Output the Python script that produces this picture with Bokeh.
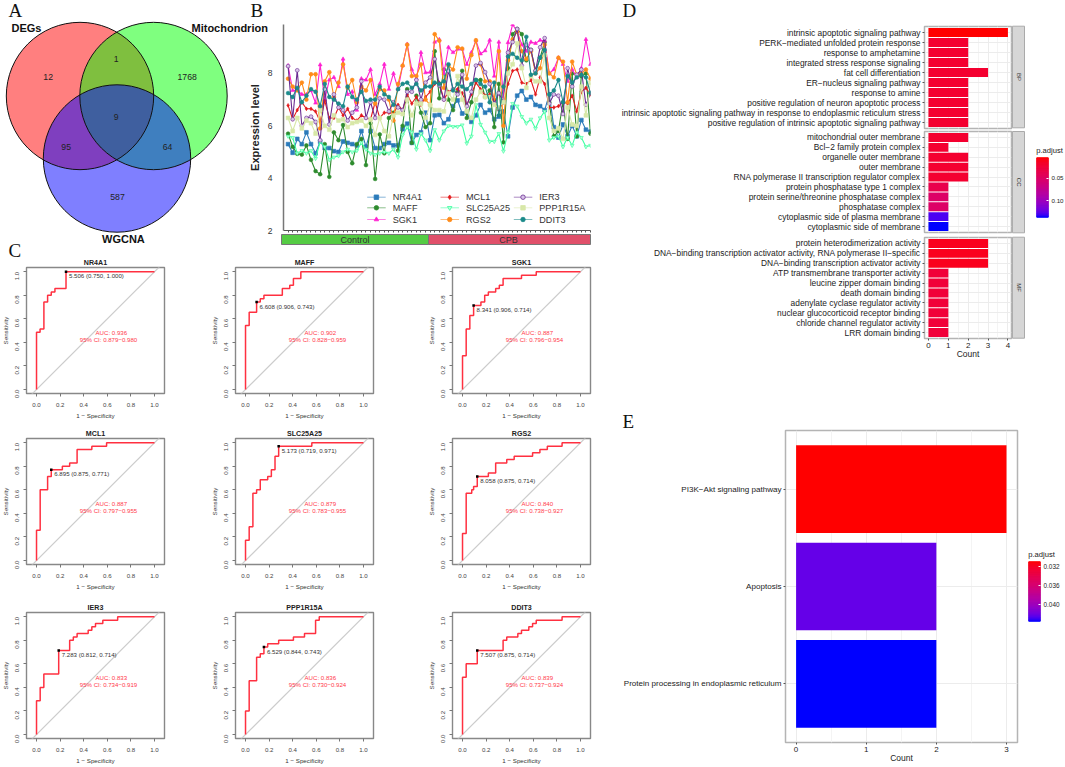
import math
from bokeh.plotting import figure
from bokeh.models import Range1d, FactorRange, FixedTicker, NumeralTickFormatter, LinearColorMapper, ColumnDataSource, CustomLabelingPolicy
from bokeh.core.properties import value
from bokeh.embed import file_html
from bokeh.resources import INLINE

SANS = "Liberation Sans"
SERIF = "Liberation Serif"

# ---------- Panel A ----------
venn_names = ["DEGs", "Mitochondrion", "WGCNA"]
venn_cx = [79.5, 153.0, 116.5]
venn_cy = [95.5, 95.5, 158.0]
venn_r = 73.7
venn_colors = ["#ff0000", "#00ff00", "#0000ff"]
venn_counts = ["12", "1", "1768", "9", "95", "64", "587"]
venn_count_x = [47.7, 115.7, 186.7, 115.7, 65.7, 167.0, 117.0]
venn_count_y = [76.7, 58.0, 76.7, 116.3, 146.0, 146.0, 196.3]

# ---------- Panel B ----------
genes = ["NR4A1", "MAFF", "SGK1", "MCL1", "SLC25A25", "RGS2", "IER3", "PPP1R15A", "DDIT3"]
NR4A1 = [5.3,4.97,5.5,5.3,5.75,5.3,4.95,5.4,5.15,5.15,5.03,5.0,5.4,5.35,5.3,5.25,5.8,5.2,5.8,5.15,5.15,5.3,5.35,5.25,5.25,5.87,6.08,5.35,5.65,5.75,6.5,5.45,
         6.4,6.42,6.1,6.25,6.75,6.97,6.47,6.5,6.15,6.4,6.8,6.5,6.6,6.25,6.35,6.55,5.6,6.7,7.15,7.33,7.0,7.1,6.8,6.75,6.6,7.2,5.95,5.55,6.05,5.6,6.0,5.6,6.22,5.85,5.78]
MAFF = [5.7,5.2,4.93,4.9,5.25,4.7,4.27,4.15,5.3,4.05,5.75,5.45,6.03,5.0,4.57,5.3,5.5,4.5,6.1,3.97,5.67,4.95,6.3,6.5,5.05,6.0,7.4,5.35,7.15,6.5,5.95,6.1,
        8.85,7.05,8.15,7.0,6.6,7.3,8.1,6.3,6.9,7.75,7.75,7.1,7.35,5.95,7.6,5.37,8.2,9.5,9.7,9.5,8.5,8.9,8.1,8.6,9.2,6.9,5.6,5.8,6.9,5.5,8.0,5.6,7.9,8.0,5.7]
SGK1 = [8.3,7.35,7.35,7.2,7.2,7.35,6.87,8.33,7.0,7.75,7.85,7.5,8.55,7.2,7.3,6.6,7.8,7.75,8.15,7.2,7.6,8.35,7.4,8.0,7.4,8.3,9.12,8.15,7.8,8.8,8.03,8.05,
        9.2,9.3,8.0,9.0,8.8,8.93,8.93,8.35,8.8,9.25,8.75,8.87,9.27,7.9,9.2,7.1,9.18,9.87,9.6,9.1,8.85,9.2,9.15,9.27,9.25,8.0,8.15,8.6,8.35,7.7,8.15,7.85,8.2,9.3,8.35]
MCL1 = [6.78,6.25,6.6,6.9,6.65,6.65,6.55,6.15,6.95,6.3,6.3,6.7,6.4,6.65,6.3,6.2,6.4,6.3,6.25,6.9,6.3,6.5,6.5,6.45,6.8,6.6,7.2,6.85,7.1,6.8,7.1,7.3,
        7.6,7.65,7.0,7.3,7.4,7.4,7.25,6.8,7.2,7.65,7.4,7.15,7.2,6.85,6.6,6.9,7.6,8.1,8.15,7.65,7.6,7.75,7.2,7.85,7.6,6.7,6.7,6.75,6.9,6.85,7.15,6.55,7.3,7.45,7.2]
SLC25A25 = [5.6,5.55,4.95,5.05,4.95,5.05,4.75,5.4,5.2,4.7,4.8,4.85,5.0,5.1,5.0,5.05,5.35,5.1,4.95,4.9,4.95,5.0,4.95,5.1,4.8,5.65,5.95,5.75,5.1,5.7,5.45,5.05,
            5.85,5.45,5.8,6.0,5.97,5.97,6.03,5.33,5.6,6.8,6.05,5.75,5.4,5.4,5.7,5.03,5.75,6.85,6.75,6.35,6.1,6.25,5.9,6.3,6.55,5.45,5.55,5.6,5.2,5.55,5.25,5.75,5.55,5.2,5.25]
RGS2 = [7.8,7.5,7.35,7.65,7.0,7.97,7.97,5.9,7.7,8.05,7.1,7.65,8.35,7.45,7.75,6.9,7.5,7.35,7.75,6.85,7.4,7.35,7.0,6.2,7.6,8.3,9.1,7.9,7.9,8.35,7.0,6.8,
        9.5,9.25,7.45,8.3,8.15,9.0,8.95,7.8,8.7,9.27,8.35,7.7,7.7,7.0,8.85,6.0,8.5,9.3,9.6,8.85,8.55,8.85,8.0,8.2,9.1,8.0,7.85,8.6,8.45,6.9,8.45,7.95,8.0,8.15,7.8]
IER3 = [8.28,6.25,8.12,6.0,6.3,6.35,6.15,5.45,7.4,6.05,7.2,6.7,6.6,6.2,6.5,6.7,7.7,6.3,6.9,6.3,7.05,7.0,6.55,6.9,6.7,6.6,7.3,7.3,7.75,7.0,7.65,7.85,
        8.55,7.55,7.0,8.1,7.4,7.2,7.95,6.75,7.3,8.3,8.4,8.05,7.6,6.85,7.25,6.9,8.8,9.2,9.7,8.3,9.1,8.9,8.1,9.0,9.35,6.85,7.2,7.15,6.45,8.2,7.5,7.95,8.15,6.8,7.25]
PPP1R15A = [6.3,5.8,6.3,5.9,6.2,6.1,5.7,6.6,6.0,5.85,6.4,6.2,6.25,5.95,6.1,6.15,6.2,6.0,6.25,5.65,6.3,5.8,5.6,6.4,6.5,6.45,7.0,6.4,6.85,6.85,6.3,6.8,
            6.6,6.6,6.55,7.25,7.0,7.9,7.0,6.55,6.3,7.0,7.3,7.1,7.1,6.8,6.7,6.9,8.0,8.35,9.15,8.2,7.45,7.9,7.7,7.7,8.7,6.3,5.8,5.9,5.5,6.7,6.05,6.0,7.5,6.4,7.65]
DDIT3 = [7.25,7.1,7.45,6.9,7.15,7.4,7.3,6.75,7.6,7.1,7.0,6.85,6.75,7.5,7.1,7.0,7.3,6.95,7.0,7.0,7.5,7.2,7.1,6.8,7.4,7.6,7.65,7.45,7.6,7.35,7.5,7.5,
         7.65,7.6,7.7,8.35,7.35,7.6,7.5,7.4,7.6,7.75,7.6,7.5,6.9,7.65,6.4,7.5,8.65,8.75,8.6,8.5,9.4,7.95,8.0,8.6,8.9,7.2,7.35,7.75,6.9,7.9,7.65,7.85,7.95,7.85,7.25]
expr = [NR4A1, MAFF, SGK1, MCL1, SLC25A25, RGS2, IER3, PPP1R15A, DDIT3]
gene_colors = ["#2b7bba", "#2e8b2e", "#ff20d0", "#e31a1c", "#3cffa0", "#ff8c1a", "#6a2c91", "#d8e8a8", "#1b8a8a"]
gene_markers = ["square", "circle", "triangle", "diamond", "inverted_triangle", "circle", "circle", "square", "circle"]
gene_fill = ["#2b7bba", "#2e8b2e", "#ff20d0", "#e31a1c", "#b8ffdc", "#ff8c1a", "#d8c4e8", "#d8e8a8", "#1b8a8a"]
group_names = ["Control", "CPB"]
group_colors = ["#55cc44", "#e0506a"]

# ---------- Panel C ----------
roc_names = ["NR4A1", "MAFF", "SGK1", "MCL1", "SLC25A25", "RGS2", "IER3", "PPP1R15A", "DDIT3"]
roc_fpr = [
    [0,.03,.0625,.094,.125,.156,.25],
    [0,.031,.094,.125,.156,.312,.375,.406,.469],
    [0,.031,.062,.094,.156,.188,.219,.281,.312,.344,.5,.625],
    [0,.031,.094,.125,.219,.281,.344,.469,.594],
    [0,.031,.0625,.094,.125,.188,.219,.25,.281,.562],
    [0,.031,.078,.094,.125,.219,.281,.375,.438,.594,.656,.719,.844],
    [0,.031,.062,.188,.281,.312,.344,.438,.469,.5,.562,.688],
    [0,.031,.094,.125,.156,.188,.281,.406,.5,.594,.625],
    [0,.031,.125,.344,.375,.469,.5,.562,.594,.625,.844],
]
roc_tpr = [
    [.486,.514,.743,.8,.829,.857,1],
    [.543,.657,.743,.771,.8,.857,.886,.943,1],
    [.286,.514,.629,.714,.743,.8,.829,.857,.886,.943,.971,1],
    [.257,.6,.714,.771,.8,.829,.943,.971,1],
    [.171,.286,.571,.6,.686,.714,.771,.886,.971,1],
    [.229,.571,.6,.629,.714,.743,.829,.857,.886,.914,.943,.971,1],
    [.286,.4,.514,.714,.8,.829,.857,.886,.914,.943,.971,1],
    [.2,.457,.657,.686,.743,.771,.8,.829,.857,.971,1],
    [.486,.6,.714,.8,.829,.857,.886,.914,.943,.971,1],
]
roc_thr = ["5.506", "6.608", "8.341", "6.895", "5.173", "8.058", "7.283", "6.529", "7.507"]
roc_spec = [.750, .906, .906, .875, .719, .875, .812, .844, .875]
roc_sens = [1.000, .743, .714, .771, .971, .714, .714, .743, .714]
roc_auc = ["0.936", "0.902", "0.887", "0.887", "0.879", "0.840", "0.833", "0.836", "0.839"]
roc_ci = ["0.879−0.980", "0.828−0.959", "0.796−0.954", "0.797−0.955", "0.783−0.955", "0.738−0.927", "0.734−0.919", "0.730−0.924", "0.737−0.924"]

# ---------- Panel D ----------
bp_terms = ["intrinsic apoptotic signaling pathway", "PERK−mediated unfolded protein response", "response to amphetamine",
            "integrated stress response signaling", "fat cell differentiation", "ER−nucleus signaling pathway", "response to amine",
            "positive regulation of neuron apoptotic process",
            "intrinsic apoptotic signaling pathway in response to endoplasmic reticulum stress",
            "positive regulation of intrinsic apoptotic signaling pathway"]
bp_count = [4, 2, 2, 2, 3, 2, 2, 2, 2, 2]
bp_padj = [.0037, .02, .02, .02, .02, .02, .02, .02, .02, .02]
cc_terms = ["mitochondrial outer membrane", "Bcl−2 family protein complex", "organelle outer membrane", "outer membrane",
            "RNA polymerase II transcription regulator complex", "protein phosphatase type 1 complex",
            "protein serine/threonine phosphatase complex", "phosphatase complex", "cytoplasmic side of plasma membrane",
            "cytoplasmic side of membrane"]
cc_count = [2, 1, 2, 2, 2, 1, 1, 1, 1, 1]
cc_padj = [.02, .02, .02, .02, .02, .035, .05, .05, .13, .1368]
mf_terms = ["protein heterodimerization activity", "DNA−binding transcription activator activity, RNA polymerase II−specific",
            "DNA−binding transcription activator activity", "ATP transmembrane transporter activity", "leucine zipper domain binding",
            "death domain binding", "adenylate cyclase regulator activity", "nuclear glucocorticoid receptor binding",
            "chloride channel regulator activity", "LRR domain binding"]
mf_count = [3, 3, 3, 1, 1, 1, 1, 1, 1, 1]
mf_padj = [.012, .012, .012, .025, .025, .025, .025, .025, .025, .025]
facet_names = ["BP", "CC", "MF"]

# ---------- Panel E ----------
kegg_terms = ["PI3K−Akt signaling pathway", "Apoptosis", "Protein processing in endoplasmic reticulum"]
kegg_count = [3, 2, 2]
kegg_padj = [.03102, .0424, .04363]


def lab_gradient(n=256):
    def to_lin(c):
        return c / 12.92 if c <= .04045 else ((c + .055) / 1.055) ** 2.4
    def to_lab(rgb):
        r, g, b = [to_lin(c) for c in rgb]
        x = (.4124 * r + .3576 * g + .1805 * b) / .95047
        y = .2126 * r + .7152 * g + .0722 * b
        z = (.0193 * r + .1192 * g + .9505 * b) / 1.08883
        f = lambda t: t ** (1 / 3) if t > .008856 else 7.787 * t + 16 / 116
        return 116 * f(y) - 16, 500 * (f(x) - f(y)), 200 * (f(y) - f(z))
    def to_hex(L, a, b):
        fy = (L + 16) / 116
        fx, fz = fy + a / 500, fy - b / 200
        g = lambda t: t ** 3 if t ** 3 > .008856 else (t - 16 / 116) / 7.787
        x, y, z = .95047 * g(fx), g(fy), 1.08883 * g(fz)
        rl = 3.2406 * x - 1.5372 * y - .4986 * z
        gl = -.9689 * x + 1.8758 * y + .0415 * z
        bl = .0557 * x - .204 * y + 1.057 * z
        def enc(c):
            c = max(0, min(1, c))
            c = 12.92 * c if c <= .0031308 else 1.055 * c ** (1 / 2.4) - .055
            return round(c * 255)
        return "#%02x%02x%02x" % (enc(rl), enc(gl), enc(bl))
    a, b = to_lab((1, 0, 0)), to_lab((0, 0, 1))
    return [to_hex(*[a[k] + (b[k] - a[k]) * i / (n - 1) for k in range(3)]) for i in range(n)]


PALETTE = lab_gradient()
figs = []


def panel(x0, y0, w, h, xr, yr, l=40, r=6, t=24, b=34, **kw):
    p = figure(width=l + w + r, height=t + h + b, x_range=xr, y_range=yr, toolbar_location=None,
               output_backend="svg", min_border_left=l, min_border_right=r, min_border_top=t, min_border_bottom=b, **kw)
    p.border_fill_alpha = 0
    p.background_fill_alpha = 0
    p.styles = {"position": "absolute", "left": f"{x0 - l}px", "top": f"{y0 - t}px"}
    figs.append(p)
    return p


# ---------- base page figure (venn, panel letters, strips, group bar, legend) ----------
base = panel(0, 0, 1065, 767, Range1d(0, 1065), Range1d(767, 0), l=0, r=0, t=0, b=0)
base.axis.visible = False
base.grid.visible = False
base.outline_line_color = None
base.background_fill_alpha = 1
for x, y, c in zip(venn_cx, venn_cy, venn_colors):
    base.circle(x=[x], y=[y], radius=venn_r, fill_color=c, fill_alpha=.5, line_color=None)
base.circle(x=venn_cx, y=venn_cy, radius=venn_r, fill_color=None, line_color="#111111", line_width=1)
base.text(x=venn_count_x, y=venn_count_y, text=venn_counts, text_font=value(SANS), text_font_size="8.7px",
          text_align="center", text_baseline="middle", text_color="#222222")
base.text(x=[11, 191, 101.5], y=[27, 27, 238.7], text=venn_names, text_font=value(SANS), text_font_style="bold",
          text_font_size="11px", text_baseline="middle", text_color="#111111")
base.text(x=[8, 250, 8, 622, 622], y=[9.5, 9.5, 250, 9.5, 420.5], text=["A", "B", "C", "D", "E"], text_font=value(SERIF),
          text_font_size="19px", text_baseline="middle", text_color="#111111")
# group bar of B
base.quad(left=[281, 428], right=[428, 590], top=[234, 234], bottom=[244, 244], fill_color=group_colors, line_color="#777777", line_width=1)
base.text(x=[354.5, 508], y=[239, 239], text=group_names, text_font=value(SANS), text_font_size="9px", text_align="center",
          text_baseline="middle", text_color="#333333")
# legend of B
leg_x = [366.7, 366.7, 366.7, 440, 440, 440, 513.3, 513.3, 513.3]
leg_y = [196.7, 207.3, 219, 196.7, 207.3, 219, 196.7, 207.3, 219]
for g, c, f, m, x, y in zip(genes, gene_colors, gene_fill, gene_markers, leg_x, leg_y):
    base.line([x, x + 18.5], [y, y], line_color=c, line_width=.8, line_alpha=.7)
    base.scatter([x + 9.2], [y], marker=m, size=4.5, fill_color=f, line_color=c, line_width=.8)
    base.text([x + 25.5], [y], text=[g], text_font=value(SANS), text_font_size="9.1px", text_baseline="middle", text_color="#333333")
# facet strips of D
strip_top = [25.7, 131, 236.7]
strip_bot = [127.3, 232.3, 337.7]
base.quad(left=[1012] * 3, right=[1024] * 3, top=strip_top, bottom=strip_bot, fill_color="#d6d6d6", line_color="#aaaaaa", line_width=1)
base.text(x=[1018] * 3, y=[(a + b) / 2 for a, b in zip(strip_top, strip_bot)], text=facet_names, angle=-math.pi / 2,
          text_font=value(SANS), text_font_size="6px", text_align="center", text_baseline="middle", text_color="#333333")
base.text(x=[1035.7, 1027.7], y=[150, 554.3], text=["p.adjust", "p.adjust"], text_font=value(SANS), text_font_size="7.6px",
          text_baseline="middle", text_color="#222222")

# ---------- B ----------
pb = panel(281, 24, 309, 206, Range1d(0, 67), Range1d(2, 9.87), l=36, r=4, t=4, b=20)
pb.outline_line_color = None
pb.grid.visible = False
pb.yaxis.ticker = FixedTicker(ticks=[2, 4, 6, 8])
pb.xaxis.ticker = FixedTicker(ticks=list(range(1, 68)))
pb.xaxis.major_label_policy = CustomLabelingPolicy(code="for (const i of indices) { indices.unset(i) } return indices;")
pb.xaxis.major_label_standoff = 0
pb.xaxis.major_tick_in = 0
pb.xaxis.major_tick_out = 2
pb.xaxis.minor_tick_line_color = None
pb.xaxis.axis_line_color = "#555555"
pb.xaxis.major_tick_line_color = "#555555"
pb.yaxis.axis_line_color = "#777777"
pb.yaxis.axis_line_width = 1.5
pb.yaxis.major_tick_line_color = None
pb.yaxis.minor_tick_line_color = None
pb.yaxis.major_label_text_font = SANS
pb.yaxis.major_label_text_font_size = "8.5px"
pb.yaxis.major_label_text_color = "#333333"
pb.yaxis.major_label_standoff = 5
pb.yaxis.axis_label = "Expression level"
pb.yaxis.axis_label_text_font = SANS
pb.yaxis.axis_label_text_font_style = "bold"
pb.yaxis.axis_label_text_font_size = "11px"
pb.yaxis.axis_label_text_color = "#222222"
pb.yaxis.axis_label_standoff = 4
sample = list(range(1, 68))
for vals, c, f, m in zip(expr, gene_colors, gene_fill, gene_markers):
    pb.line(sample, vals, line_color=c, line_width=1.1)
    pb.scatter(sample, vals, marker=m, size=3.8, fill_color=f, line_color=c, line_width=.6)

# ---------- C ----------
col_x = [26.4, 235.2, 451.8]
row_y = [267.2, 438.3, 612.3]
for i, name in enumerate(roc_names):
    pc = panel(col_x[i % 3], row_y[i // 3], 138, 126, Range1d(-.085, 1.085), Range1d(-.034, 1.036), l=30, r=4, t=14, b=30)
    pc.title.text = name
    pc.title.text_font = SANS
    pc.title.text_font_style = "bold"
    pc.title.text_font_size = "7.1px"
    pc.title.align = "center"
    pc.title.text_color = "#222222"
    pc.title.standoff = 2
    pc.grid.visible = False
    pc.outline_line_color = "#888888"
    pc.outline_line_width = 1.4
    for ax in (pc.xaxis[0], pc.yaxis[0]):
        ax.ticker = FixedTicker(ticks=[0, .2, .4, .6, .8, 1])
        ax.formatter = NumeralTickFormatter(format="0.0")
        ax.axis_line_color = None
        ax.major_tick_in = 0
        ax.major_tick_out = 3
        ax.major_tick_line_color = "#777777"
        ax.minor_tick_line_color = None
        ax.major_label_text_font = SANS
        ax.major_label_text_font_size = "6.1px"
        ax.major_label_text_color = "#444444"
        ax.major_label_standoff = 6
        ax.axis_label_text_font = SANS
        ax.axis_label_text_font_style = "normal"
        ax.axis_label_text_font_size = "6.2px"
        ax.axis_label_text_color = "#333333"
        ax.axis_label_standoff = 2
    pc.xaxis.axis_label = "1 − Specificity"
    pc.yaxis.axis_label = "Sensitivity"
    pc.yaxis.major_label_orientation = math.pi / 2
    pc.line([-.2, 1.2], [-.2, 1.2], line_color="#cccccc", line_width=1.2)
    xs = [0] + roc_fpr[i] + [1]
    ys = [0] + roc_tpr[i] + [1]
    pc.step(xs, ys, mode="after", line_color="#ff3040", line_width=1.5)
    bx, by = 1 - roc_spec[i], roc_sens[i]
    pc.scatter([bx], [by], marker="square", size=2.5, fill_color="#000000", line_color=None)
    pc.text([bx], [by], text=[f"{roc_thr[i]} ({roc_spec[i]:.3f}, {roc_sens[i]:.3f})"], x_offset=3, y_offset=4, text_font=value(SANS),
            text_font_size="6.1px", text_baseline="middle", text_color="#333333")
    pc.text([.634, .61], [.483, .427], text=[f"AUC: {roc_auc[i]}", f"95% CI: {roc_ci[i]}"], text_font=value(SANS),
            text_font_size="6.1px", text_align="center", text_baseline="middle", text_color="#ff3a4a")


def bars(x0, y0, w, h, terms, counts, padj, xr, pad, low, high, ticks, minors, fs, bottom):
    yr = FactorRange(factors=list(reversed(terms)), range_padding=pad, range_padding_units="percent")
    p = panel(x0, y0, w, h, xr, yr, l=340, r=4, t=4, b=30 if bottom else 4)
    mapper = LinearColorMapper(palette=PALETTE, low=low, high=high)
    src = ColumnDataSource(dict(term=terms, count=counts, padj=padj))
    p.hbar(y="term", left=0, right="count", height=.9, source=src, fill_color={"field": "padj", "transform": mapper},
           line_color=None)
    p.outline_line_color = "#b4b4b4"
    p.outline_line_width = 1.5
    p.xgrid.ticker = FixedTicker(ticks=ticks, minor_ticks=minors)
    p.xgrid.grid_line_color = "#ececec"
    p.xgrid.minor_grid_line_color = "#f4f4f4"
    p.ygrid.grid_line_color = "#ececec"
    p.yaxis.axis_line_color = None
    p.yaxis.major_tick_in = 0
    p.yaxis.major_tick_out = 2
    p.yaxis.major_tick_line_color = "#555555"
    p.yaxis.major_label_text_font = SANS
    p.yaxis.major_label_text_font_size = fs
    p.yaxis.major_label_text_color = "#222222"
    p.yaxis.major_label_standoff = 2
    if bottom:
        p.xaxis.ticker = FixedTicker(ticks=ticks)
        p.xaxis.axis_line_color = None
        p.xaxis.major_tick_in = 0
        p.xaxis.major_tick_out = 2
        p.xaxis.minor_tick_line_color = None
        p.xaxis.major_tick_line_color = "#555555"
        p.xaxis.major_label_text_font = SANS
        p.xaxis.major_label_text_font_size = "8px"
        p.xaxis.major_label_text_color = "#222222"
        p.xaxis.major_label_standoff = 2
        p.xaxis.axis_label = "Count"
        p.xaxis.axis_label_text_font = SANS
        p.xaxis.axis_label_text_font_style = "normal"
        p.xaxis.axis_label_text_font_size = "8.5px"
        p.xaxis.axis_label_text_color = "#222222"
        p.xaxis.axis_label_standoff = -2
    else:
        p.xaxis.visible = False
    return p


D_LOW, D_HIGH = .0037, .1368
for tm, ct, pj, top, bot, last in [(bp_terms, bp_count, bp_padj, 25.7, 127.3, False),
                                   (cc_terms, cc_count, cc_padj, 131, 232.3, False),
                                   (mf_terms, mf_count, mf_padj, 236.7, 337.7, True)]:
    bars(924.3, top, 87, round(bot - top), tm, ct, pj, Range1d(-.2, 4.18), .02, D_LOW, D_HIGH, [0, 1, 2, 3, 4],
         [.5, 1.5, 2.5, 3.5], "8.4px", last)
bars(784.7, 430, 232, 312, kegg_terms, kegg_count, kegg_padj, Range1d(-.151, 3.157), .0667, .03102, .04363, [0, 1, 2, 3],
     [.5, 1.5, 2.5], "8.07px", True)


def colorbar(x0, y0, h, low, high, ticks, fmt, fs):
    p = panel(x0, y0, 12, h, Range1d(0, 1), Range1d(high, low), l=0, r=26, t=2, b=2, y_axis_location="right")
    n = len(PALETTE)
    step = (high - low) / n
    p.quad(left=0, right=1, top=[low + k * step for k in range(n)], bottom=[low + (k + 1) * step for k in range(n)],
           fill_color=PALETTE, line_color=PALETTE, line_width=.6)
    p.grid.visible = False
    p.outline_line_color = None
    p.xaxis.visible = False
    ax = p.yaxis[0]
    ax.ticker = FixedTicker(ticks=ticks)
    ax.formatter = NumeralTickFormatter(format=fmt)
    ax.axis_line_color = None
    ax.major_tick_in = 2
    ax.major_tick_out = 0
    ax.major_tick_line_color = "#ffffff"
    ax.minor_tick_line_color = None
    ax.major_label_text_font = SANS
    ax.major_label_text_font_size = fs
    ax.major_label_text_color = "#222222"
    ax.major_label_standoff = 3
    return p


colorbar(1035.7, 157.3, 60, D_LOW, D_HIGH, [.05, .10], "0.00", "6.2px")
colorbar(1027.7, 561.3, 60, .03102, .04363, [.032, .036, .040], "0.000", "6.4px")

open("out.html", "w").write(file_html(figs, INLINE))
